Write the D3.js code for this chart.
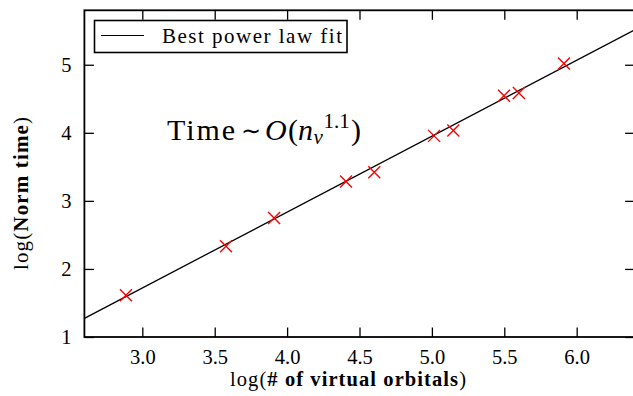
<!DOCTYPE html>
<html><head><meta charset="utf-8">
<script src="https://cdn.jsdelivr.net/npm/d3@7"></script>
<style>
html,body{margin:0;padding:0;background:#fff;overflow:hidden}
text{font-family:"Liberation Serif","Times New Roman",serif;fill:#000}
</style></head>
<body><svg id="c" width="633" height="396"></svg>
<script>
// data (log of virtual orbitals, log of normalized time)
const logOrbitals = [2.887, 3.578, 3.910, 4.407, 4.602, 5.015, 5.148, 5.498, 5.601, 5.912];
const logNormTime = [1.615, 2.333, 2.748, 3.286, 3.422, 3.955, 4.033, 4.546, 4.585, 5.019];
// best power law fit: y = slope*x + intercept
const fitSlope = 1.115;
const fitIntercept = -1.625;
const xTicks = [3.0, 3.5, 4.0, 4.5, 5.0, 5.5, 6.0];
const yTicks = [1, 2, 3, 4, 5];
const xDomain = [2.6, 6.4];
const yDomain = [1, 5.8];

const svg = d3.select("#c");
const L = 84.4, R = 634.6, T = 10.3, B = 337;
const x = d3.scaleLinear().domain(xDomain).range([L, R]);
const y = d3.scaleLinear().domain(yDomain).range([B, T]);

svg.append("clipPath").attr("id","clip").append("rect")
  .attr("x",L).attr("y",T).attr("width",R-L).attr("height",B-T);

const tl = 9.5;
function styleAxis(g){
  g.attr("font-family",null).attr("font-size",null);
  g.select(".domain").remove();
  g.selectAll(".tick line").attr("stroke","#000").attr("stroke-width",1.3);
  g.selectAll(".tick text").style("font-size","20.5px").attr("fill","#000")
   .style("font-family","'Liberation Serif',serif");
}
svg.append("g").attr("transform",`translate(0,${B})`)
  .call(d3.axisBottom(x).tickValues(xTicks).tickFormat(d3.format(".1f")).tickSize(-tl).tickPadding(12))
  .call(styleAxis);
svg.append("g").attr("transform",`translate(0,${T})`)
  .call(d3.axisTop(x).tickValues(xTicks).tickFormat("").tickSize(-tl))
  .call(styleAxis);
svg.append("g").attr("transform",`translate(${L},0)`)
  .call(d3.axisLeft(y).tickValues(yTicks).tickFormat(d3.format("d")).tickSize(-tl).tickPadding(13))
  .call(styleAxis)
  .call(g=>g.selectAll(".tick text").attr("dy","0.34em"));
svg.append("g").attr("transform",`translate(${R},0)`)
  .call(d3.axisRight(y).tickValues(yTicks).tickFormat("").tickSize(-tl))
  .call(styleAxis);

// fit line
const plot = svg.append("g").attr("clip-path","url(#clip)");
const line = d3.line().x(d=>x(d)).y(d=>y(fitSlope*d+fitIntercept));
plot.append("path").datum(xDomain).attr("d",line)
  .attr("fill","none").attr("stroke","#000").attr("stroke-width",1.3);

// markers
const ms = 6;
const pts = logOrbitals.map((v,i)=>[v, logNormTime[i]]);
plot.selectAll("path.m").data(pts).enter().append("path").attr("class","m")
  .attr("d",d=>{const cx=x(d[0]), cy=y(d[1]);
    return `M${cx-ms},${cy-ms}L${cx+ms},${cy+ms}M${cx-ms},${cy+ms}L${cx+ms},${cy-ms}`;})
  .attr("stroke","#ff0000").attr("stroke-width",1.4).attr("fill","none");

// frame
svg.append("rect").attr("x",L).attr("y",T).attr("width",R-L).attr("height",B-T)
  .attr("fill","none").attr("stroke","#000").attr("stroke-width",1.8);

// legend
svg.append("rect").attr("x",94.5).attr("y",20.5).attr("width",252.5).attr("height",32)
  .attr("fill","#fff").attr("stroke","#000").attr("stroke-width",1.6);
svg.append("line").attr("x1",101).attr("x2",144).attr("y1",35.5).attr("y2",35.5)
  .attr("stroke","#000").attr("stroke-width",1.1);
svg.append("text").attr("x",162).attr("y",43).style("font-size","21px")
  .attr("textLength",180).attr("lengthAdjust","spacing").text("Best power law fit");

// annotation
const ann = svg.append("text").attr("y",140).style("font-size","30px");
ann.append("tspan").attr("x",167).attr("textLength",68).attr("lengthAdjust","spacing").text("Time");
ann.append("tspan").attr("x",241).attr("y",138.5).style("font-family","'DejaVu Sans',sans-serif")
  .style("font-size","24px").text("∼");
ann.append("tspan").attr("x",265).attr("y",140).style("font-style","italic").text("O");
ann.append("tspan").attr("x",288).text("(");
ann.append("tspan").attr("x",298).style("font-style","italic").text("n");
ann.append("tspan").attr("x",313.5).attr("y",144).style("font-style","italic").style("font-size","21px").text("v");
ann.append("tspan").attr("x",323.5).attr("y",128).style("font-size","21px").text("1.1");
ann.append("tspan").attr("x",351).attr("y",140).text(")");

// axis labels
const xl = svg.append("text").attr("x",230).attr("y",386).style("font-size","20.5px")
  .attr("textLength",236).attr("lengthAdjust","spacing");
xl.append("tspan").text("log(");
xl.append("tspan").style("font-weight","bold").text("# of virtual orbitals");
xl.append("tspan").text(")");

const yl = svg.append("text").attr("transform","translate(28,270) rotate(-90)").style("font-size","21px")
  .attr("textLength",153).attr("lengthAdjust","spacing");
yl.append("tspan").text("log(");
yl.append("tspan").style("font-weight","bold").text("Norm time");
yl.append("tspan").text(")");
</script></body></html>
